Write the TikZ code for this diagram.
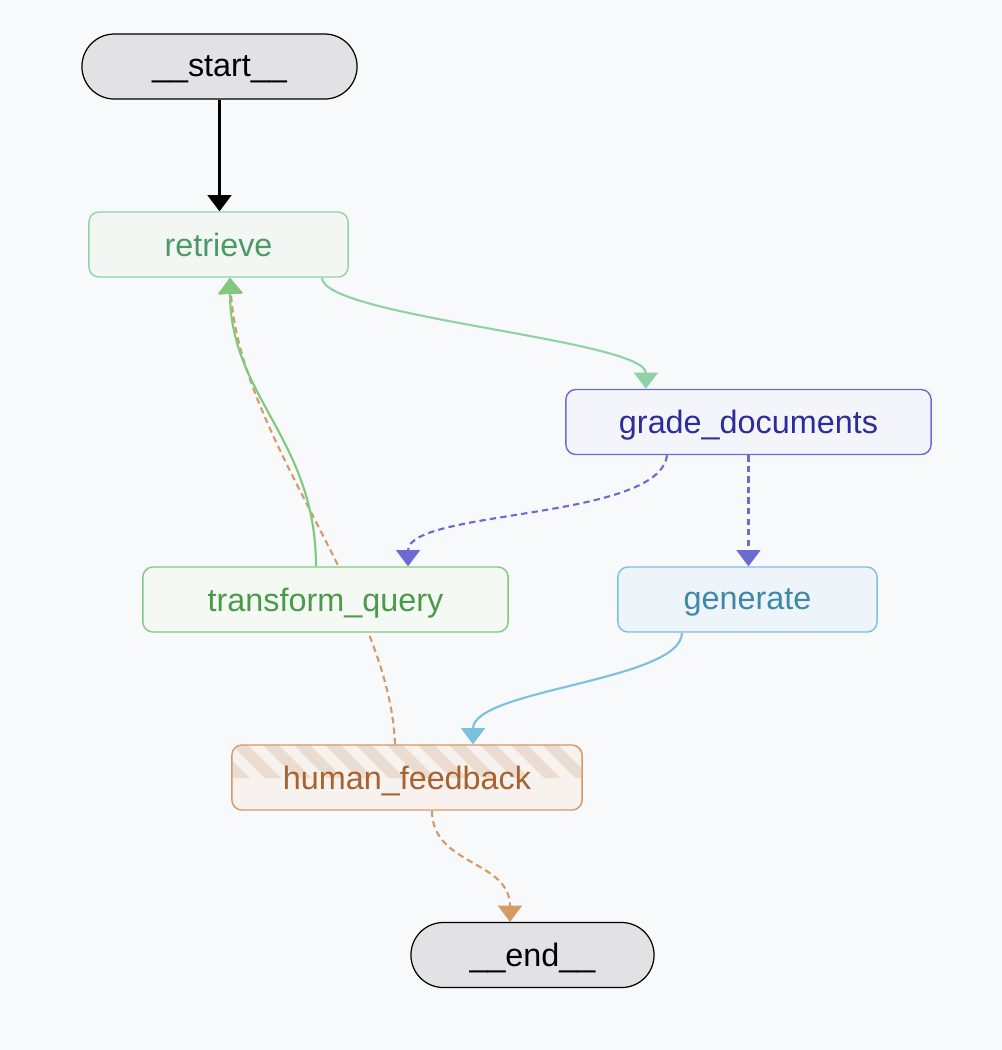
\documentclass[tikz,border=0pt]{standalone}
\usepackage{fontspec}
\setmainfont{Liberation Sans}
\usepackage{tikz}
\usetikzlibrary{arrows.meta}
\definecolor{canvas}{HTML}{F8F9FB}
\definecolor{termfill}{HTML}{E2E2E4}
\definecolor{retrievefill}{HTML}{F3F7F4}
\definecolor{retrieveline}{HTML}{8FD3A5}
\definecolor{retrievetext}{HTML}{4A9A68}
\definecolor{gradefill}{HTML}{F4F5FB}
\definecolor{gradeline}{HTML}{6B6BD2}
\definecolor{gradetext}{HTML}{2C2C9C}
\definecolor{queryfill}{HTML}{F4F9F4}
\definecolor{queryline}{HTML}{80CA80}
\definecolor{querytext}{HTML}{4A9A4A}
\definecolor{generatefill}{HTML}{EEF5FA}
\definecolor{generateline}{HTML}{7CC0DF}
\definecolor{generatetext}{HTML}{3F88A8}
\definecolor{humanfill}{HTML}{F7F2EE}
\definecolor{humanline}{HTML}{D59A66}
\definecolor{humantext}{HTML}{A8612F}
\definecolor{hatchfill}{HTML}{EADCD0}
\pgfdeclarelayer{paper}
\pgfdeclarelayer{wires}
\pgfsetlayers{paper,wires,main}

\begin{document}
\begin{tikzpicture}[x=0.01cm, y=-0.01cm,
    every node/.style={font=\fontsize{9.2}{11}\selectfont, inner sep=0pt, text depth=0pt},
    terminal/.style={draw=black, line width=0.35pt, fill=termfill, rounded corners=0.325cm, minimum height=0.65cm},
    box/.style={line width=0.4pt, rounded corners=0.1cm, minimum height=0.65cm},
    wire/.style={line width=0.6pt, draw=#1, -{Triangle[length=4.6pt,width=6.8pt]}},
    hop/.style={wire=#1, dash pattern=on 1.8pt off 1.2pt}]
    \begin{pgfonlayer}{paper}
        \fill[canvas] (0, 0) rectangle (1002, 1050);
    \end{pgfonlayer}
    \node[terminal, minimum width=2.75cm] (start) at (219.5, 66.5) {\_\_start\_\_};
    \node[box, draw=retrieveline, fill=retrievefill, text=retrievetext, minimum width=2.59cm] (retrieve) at (218.5, 244.5) {retrieve};
    \node[box, draw=gradeline, fill=gradefill, text=gradetext, minimum width=3.65cm] (grade) at (748.5, 422) {grade\_documents};
    \node[box, draw=queryline, fill=queryfill, text=querytext, minimum width=3.65cm] (transform) at (325.5, 599.5) {transform\_query};
    \node[box, draw=generateline, fill=generatefill, text=generatetext, minimum width=2.59cm] (generate) at (747.5, 599.5) {generate};
    \node[box, draw=humanline, fill=humanfill, text=humantext, minimum width=3.5cm,
        path picture={
            \foreach \k in {-2,...,11}
                \fill[hatchfill, sharp corners] ([xshift=\k*0.31cm]path picture bounding box.north west)
                    -- ++(0.16cm, 0cm) -- ++(0.33cm, -0.33cm) -- ++(-0.16cm, 0cm) -- cycle;}] (human) at (407, 777.5) {human\_feedback};
    \node[terminal, minimum width=2.43cm] (finish) at (532.5, 955) {\_\_end\_\_};
    \begin{pgfonlayer}{wires}
        \draw[wire=black] (start.south) -- (start.south |- retrieve.north);
        \draw[wire=retrieveline] ([xshift=1.035cm]retrieve.south) .. controls +(0, 39) and +(0, -49) .. ([xshift=-1.025cm]grade.north);
        \draw[hop=humanline] ([xshift=-0.12cm]human.north) .. controls +(-5, -145) and +(10, 161) .. ([xshift=0.115cm]retrieve.south);
        \draw[wire=queryline] ([xshift=-0.095cm]transform.north) .. controls +(0, -127) and +(0, 119) .. ([xshift=0.115cm]retrieve.south);
        \draw[hop=gradeline] ([xshift=-0.815cm]grade.south) .. controls +(-7, 65) and +(0, -57) .. ([xshift=0.825cm]transform.north);
        \draw[hop=gradeline] (grade.south) -- (grade.south |- generate.north);
        \draw[wire=generateline] ([xshift=-0.655cm]generate.south) .. controls +(0, 48) and +(0, -55) .. ([xshift=0.66cm]human.north);
        \draw[hop=humanline] ([xshift=0.25cm]human.south) .. controls +(0, 55) and +(0, -62) .. ([xshift=-0.225cm]finish.north);
    \end{pgfonlayer}
\end{tikzpicture}
\end{document}
